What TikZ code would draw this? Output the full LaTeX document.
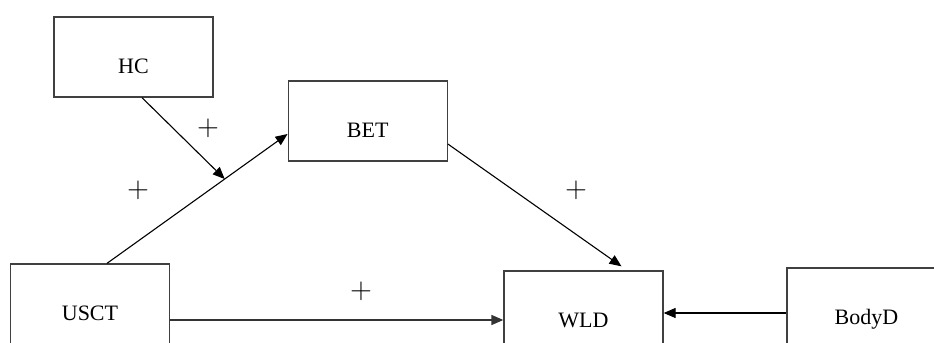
\documentclass[tikz,border=0pt]{standalone}
\usepackage{fontspec}
\setmainfont{Liberation Serif}
\usetikzlibrary{arrows.meta,calc}
\begin{document}
\begin{tikzpicture}[x=0.5pt,y=-0.5pt,
  box/.style={draw=black!75,line width=0.65pt,minimum width=79.5pt,minimum height=40pt,inner sep=0pt},
  boxtext/.style={anchor=center,yshift=-4.75pt,text height=7.3pt,text depth=0pt,inner sep=0pt,font=\fontsize{11}{13}\selectfont},
  conn/.style={line width=0.55pt,-{Triangle[length=6pt,width=5pt]}},
  plus/.style={inner sep=0pt,font=\fontsize{14}{14}\selectfont}]
\useasboundingbox (0,0) rectangle (934,343);
\clip (0,0) rectangle (934,343);
\fill[white] (0,0) rectangle (934,343);
\node[box,label={[boxtext]center:HC}] (hc) at (133.5,57) {};
\node[box,label={[boxtext]center:BET}] (bet) at (367.7,121) {};
\node[box,label={[boxtext]center:USCT}] (usct) at (90,304) {};
\node[box,label={[boxtext]center:WLD}] (wld) at (583.5,311) {};
\node[box,label={[boxtext]center:BodyD}] (bodyd) at (866.5,308) {};
% USCT -> BET
\coordinate (s1) at ($(usct.north)+(17,0)$);
\coordinate (t1) at ($(bet.west)+(0,13)$);
\coordinate (mod) at ($(s1)!0.652!(t1)$);
\draw[conn] (s1) -- (t1);
% HC -> moderation point
\draw[conn] ($(hc.south)+(8.5,0)$) -- (mod);
% BET -> WLD
\draw[conn] ($(bet.east)+(0,23)$) -- ($(wld.north)+(38,-4)$);
% USCT -> WLD
\coordinate (u1) at ($(usct.east)+(0,16)$);
\draw[conn,draw=black!80,line width=0.75pt] (u1) -- (u1 -| wld.west);
% BodyD -> WLD
\coordinate (b1) at ($(bodyd.west)+(0,5)$);
\draw[conn] (b1) -- (b1 -| wld.east);
% plus signs
\node[plus] (p1) at (208,128) {$+$};
\node[plus] (p2) at (138,190) {$+$};
\node[plus] (p3) at (576,190) {$+$};
\node[plus] (p4) at (361,291) {$+$};
\end{tikzpicture}
\end{document}
